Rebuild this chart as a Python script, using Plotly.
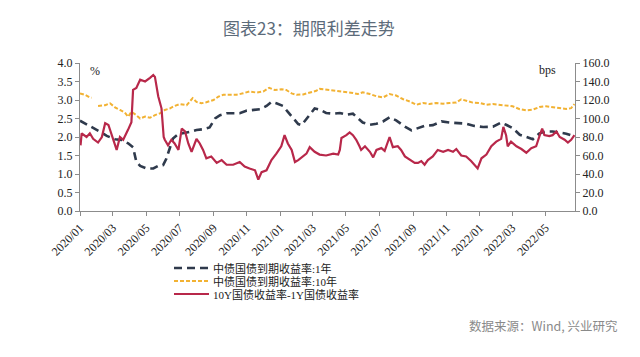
import plotly.graph_objects as go

# ---------------- data ----------------
y10_dates = ["2020-01-01","2020-01-10","2020-01-19","2020-01-22",None,"2020-02-03","2020-02-16","2020-02-25",
"2020-03-05","2020-03-14","2020-03-23","2020-03-29","2020-04-04","2020-04-13","2020-04-20","2020-04-29",
"2020-05-08","2020-05-17","2020-05-26","2020-06-04","2020-06-13","2020-06-22","2020-07-02","2020-07-14",
"2020-07-25","2020-08-01","2020-08-10","2020-08-19","2020-09-01","2020-09-10","2020-09-19","2020-10-01",
"2020-10-13","2020-10-25","2020-11-06","2020-11-19","2020-12-01","2020-12-12","2020-12-22","2021-01-03",
"2021-01-12","2021-01-22","2021-01-31","2021-02-12","2021-02-24","2021-03-08","2021-03-14","2021-03-26",
"2021-04-08","2021-04-20","2021-05-02","2021-05-14","2021-05-23","2021-06-01","2021-06-14","2021-06-26",
"2021-07-08","2021-07-20","2021-08-01","2021-08-14","2021-08-26","2021-09-07","2021-09-19","2021-10-01",
"2021-10-13","2021-10-26","2021-11-07","2021-11-19","2021-11-28","2021-12-07","2021-12-19","2022-01-01",
"2022-01-13","2022-01-25","2022-02-06","2022-02-18","2022-03-02","2022-03-15","2022-03-27","2022-04-08",
"2022-04-20","2022-05-02","2022-05-14","2022-05-27","2022-06-08","2022-06-17","2022-06-23"]
y10_vals = [3.18,3.14,3.07,3.06,None,2.84,2.86,2.91,
2.80,2.73,2.66,2.55,2.68,2.59,2.50,2.55,
2.52,2.59,2.64,2.73,2.77,2.84,2.89,2.86,
3.05,2.95,2.91,2.94,3.00,3.09,3.14,3.14,
3.14,3.18,3.23,3.20,3.23,3.33,3.27,3.29,
3.27,3.18,3.14,3.15,3.20,3.25,3.30,3.28,
3.26,3.23,3.21,3.19,3.16,3.21,3.16,3.10,
3.07,3.16,3.12,3.02,2.96,2.87,2.92,2.89,
2.92,2.90,2.92,2.93,3.02,2.99,2.93,2.92,
2.87,2.89,2.87,2.83,2.83,2.75,2.72,2.74,
2.81,2.83,2.81,2.80,2.76,2.78,2.89]

y1_dates = ["2020-01-01","2020-01-13","2020-01-22","2020-02-07","2020-02-19","2020-03-05","2020-03-17","2020-03-29",
"2020-04-07","2020-04-13","2020-04-20","2020-05-02","2020-05-14","2020-05-23","2020-06-01","2020-06-07",
"2020-06-13","2020-06-19","2020-06-29","2020-07-08","2020-07-20","2020-08-01","2020-08-13","2020-08-25",
"2020-09-04","2020-09-13","2020-09-25","2020-10-07","2020-10-19","2020-10-31","2020-11-13","2020-11-25",
"2020-12-07","2020-12-16","2020-12-25","2021-01-06","2021-01-15","2021-01-25","2021-02-03","2021-02-09",
"2021-02-15","2021-02-24","2021-03-05","2021-03-14","2021-03-26","2021-04-08","2021-04-20","2021-05-02",
"2021-05-14","2021-05-23","2021-06-01","2021-06-14","2021-06-26","2021-07-08","2021-07-20","2021-08-01",
"2021-08-17","2021-08-29","2021-09-10","2021-09-22","2021-10-07","2021-10-23","2021-11-07","2021-11-22",
"2021-12-07","2021-12-22","2022-01-07","2022-01-25","2022-02-09","2022-02-18","2022-03-02","2022-03-15",
"2022-03-27","2022-04-08","2022-04-20","2022-05-02","2022-05-14","2022-05-27","2022-06-08","2022-06-20"]
y1_vals = [2.44,2.35,2.26,2.14,2.03,1.94,1.92,1.83,
1.72,1.33,1.22,1.15,1.15,1.22,1.24,1.42,
1.69,1.96,2.08,2.10,2.14,2.19,2.21,2.26,
2.50,2.59,2.64,2.64,2.64,2.71,2.73,2.75,
2.84,2.95,2.91,2.84,2.68,2.50,2.35,2.32,
2.44,2.59,2.77,2.74,2.65,2.63,2.65,2.60,
2.63,2.51,2.39,2.33,2.36,2.42,2.53,2.45,
2.28,2.18,2.24,2.30,2.32,2.42,2.39,2.37,
2.36,2.30,2.27,2.28,2.39,2.33,2.24,2.06,
2.00,1.94,2.10,2.15,2.15,2.12,2.09,2.03]

spread_dates = ["2020-01-02","2020-01-04","2020-01-13","2020-01-19","2020-01-25","2020-02-03","2020-02-10","2020-02-16",
"2020-02-22","2020-02-26","2020-03-02","2020-03-08","2020-03-14","2020-03-20","2020-03-29","2020-04-04",
"2020-04-07","2020-04-13","2020-04-20","2020-04-29","2020-05-08","2020-05-14","2020-05-17","2020-05-23",
"2020-05-29","2020-06-02","2020-06-04","2020-06-10","2020-06-16","2020-06-22","2020-06-29","2020-07-05",
"2020-07-11","2020-07-17","2020-07-23","2020-08-01","2020-08-07","2020-08-13","2020-08-19","2020-08-28",
"2020-09-07","2020-09-16","2020-09-25","2020-10-07","2020-10-19","2020-10-28","2020-11-06","2020-11-16",
"2020-11-22","2020-11-28","2020-12-07","2020-12-16","2020-12-25","2021-01-03","2021-01-09","2021-01-15",
"2021-01-22","2021-01-28","2021-02-03","2021-02-09","2021-02-18","2021-02-24","2021-03-05","2021-03-14",
"2021-03-26","2021-04-08","2021-04-17","2021-04-20","2021-04-23","2021-05-02","2021-05-08","2021-05-14",
"2021-05-20","2021-05-26","2021-05-29","2021-06-05","2021-06-14","2021-06-20","2021-06-26","2021-07-05",
"2021-07-11","2021-07-20","2021-07-26","2021-08-04","2021-08-10","2021-08-17","2021-08-26","2021-09-04",
"2021-09-10","2021-09-16","2021-09-22","2021-09-28","2021-10-07","2021-10-16","2021-10-26","2021-11-04",
"2021-11-13","2021-11-19","2021-11-28","2021-12-07","2021-12-16","2021-12-25","2021-12-28","2022-01-04",
"2022-01-13","2022-01-22","2022-01-31","2022-02-09","2022-02-13","2022-02-18","2022-02-21","2022-02-27",
"2022-03-09","2022-03-18","2022-03-27","2022-04-05","2022-04-14","2022-04-20","2022-04-25","2022-04-29",
"2022-05-08","2022-05-14","2022-05-21","2022-05-27","2022-06-05","2022-06-11","2022-06-17","2022-06-23"]
spread_bps = [71,84,80,84,78,74,80,95,
93,86,77,66,80,77,88,96,
131,133,142,140,144,147,145,124,
111,80,77,71,77,73,66,89,
86,73,64,78,73,66,57,59,
52,55,50,50,53,48,46,44,
34,42,44,55,62,70,82,73,
66,53,55,58,62,69,64,61,
60,62,61,66,79,82,85,82,
77,70,66,70,64,58,66,68,
65,80,69,70,66,59,55,52,
52,54,50,55,59,66,64,66,
64,67,60,59,54,48,46,57,
61,70,75,78,91,82,70,75,
70,67,63,68,70,81,89,82,
81,82,86,80,77,74,77,82]

names = ["中债国债到期收益率:1年", "中债国债到期收益率:10年", "10Y国债收益率-1Y国债收益率"]
title_text = "图表23：期限利差走势"
source_text = "数据来源：Wind, 兴业研究"

# ---------------- styles ----------------
SERIF = "Liberation Serif, Times New Roman, Noto Sans CJK SC, serif"
colors = ["#2F3A4C", "#F2B233", "#B8284A"]
widths = [2.6, 2.0, 2.2]
dashes = ["8px,5px", "4px,2px", "solid"]

fig = go.Figure()
fig.add_trace(go.Scatter(x=y1_dates, y=y1_vals, name=names[0], mode="lines", showlegend=False,
                         line=dict(color=colors[0], width=widths[0], dash=dashes[0])))
fig.add_trace(go.Scatter(x=y10_dates, y=y10_vals, name=names[1], mode="lines", connectgaps=False, showlegend=False,
                         line=dict(color=colors[1], width=widths[1], dash=dashes[1])))
fig.add_trace(go.Scatter(x=spread_dates, y=spread_bps, name=names[2], mode="lines", yaxis="y2", showlegend=False,
                         line=dict(color=colors[2], width=widths[2], dash=dashes[2])))

# plot area on screen: x 80..575, y 63..211 (page has an 8px body offset)
def px_x(p):
    return (p - 80) / 495.0

def px_y(p):
    return (211 - p) / 148.0

shapes = []
annotations = []
legend_rows = [268, 281, 294]
for i, name in enumerate(names):
    yy = px_y(legend_rows[i])
    shapes.append(dict(type="line", xref="paper", yref="paper", x0=px_x(174), x1=px_x(209), y0=yy, y1=yy,
                       line=dict(color=colors[i], width=widths[i], dash=dashes[i])))
    annotations.append(dict(text=name, xref="paper", yref="paper", x=px_x(211), y=yy, showarrow=False,
                            xanchor="left", yanchor="middle",
                            font=dict(family="Liberation Serif, Noto Sans CJK SC", size=11, color="#222")))

annotations += [
    dict(text=title_text, xref="paper", yref="paper", x=px_x(309), y=px_y(27), showarrow=False,
         xanchor="center", yanchor="middle", font=dict(family="Noto Sans CJK SC", size=17, color="#5C6B7A")),
    dict(text="%", xref="paper", yref="paper", x=px_x(95), y=px_y(71), showarrow=False,
         xanchor="center", yanchor="middle", font=dict(family=SERIF, size=12, color="#222")),
    dict(text="bps", xref="paper", yref="paper", x=px_x(547), y=px_y(70), showarrow=False,
         xanchor="center", yanchor="middle", font=dict(family=SERIF, size=12, color="#222")),
    dict(text=source_text, xref="paper", yref="paper", x=px_x(620), y=px_y(325), showarrow=False,
         xanchor="right", yanchor="middle", font=dict(family="Noto Sans CJK SC", size=12.5, color="#8a8a8a")),
]

axis_common = dict(showgrid=False, zeroline=False, showline=True, linecolor="#8c8c8c", linewidth=1,
                   ticks="outside", ticklen=4, tickcolor="#8c8c8c", automargin=False,
                   tickfont=dict(family=SERIF, size=12, color="#222"))
fig.update_layout(
    width=632, height=349,
    margin=dict(l=72, r=65, t=55, b=146, autoexpand=False),
    paper_bgcolor="white", plot_bgcolor="white",
    showlegend=False,
    xaxis=dict(type="date", range=["2020-01-01", "2022-06-24"], tick0="2020-01-01", dtick="M2",
               tickformat="%Y/%m", tickangle=-45, **axis_common),
    yaxis=dict(range=[0, 4], dtick=0.5, tickformat=".1f", **axis_common),
    yaxis2=dict(range=[0, 160], dtick=20, tickformat=".1f", overlaying="y", side="right", **axis_common),
    shapes=shapes,
    annotations=annotations,
)
fig.write_html("out.html")
